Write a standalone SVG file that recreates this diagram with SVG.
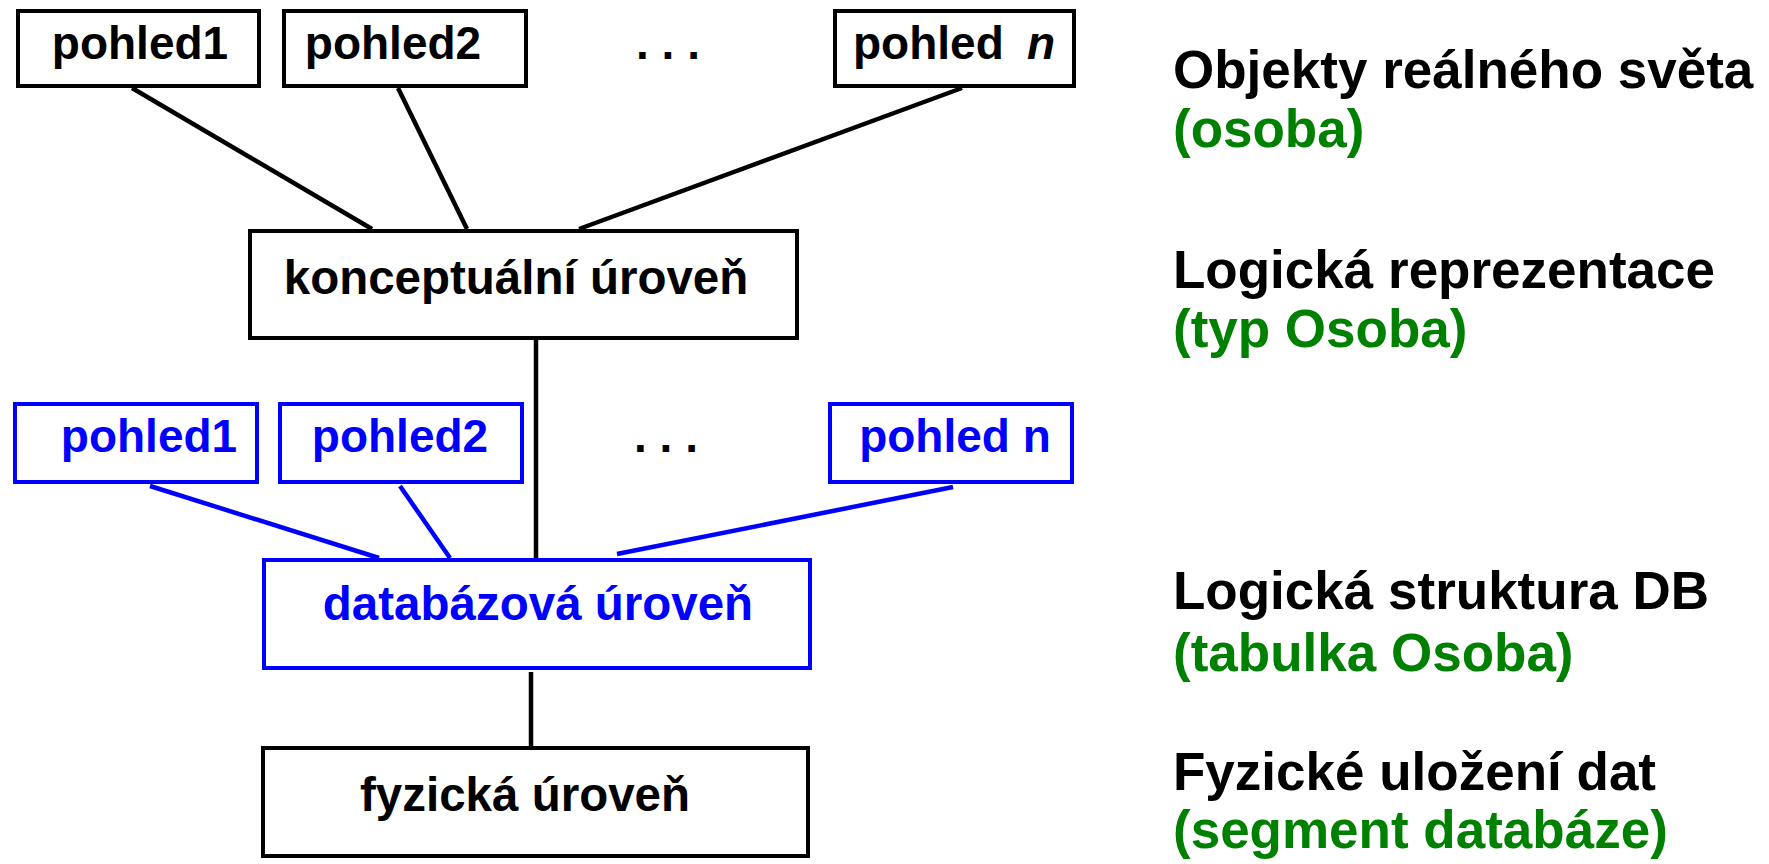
<svg xmlns="http://www.w3.org/2000/svg" width="1769" height="864" viewBox="0 0 1769 864">
<style>
.bx{fill:#fff;stroke:#000;stroke-width:4}
.bb{fill:#fff;stroke:#0000ff;stroke-width:4}
.t{font-family:"Liberation Sans",Arial,sans-serif;font-weight:bold;text-anchor:middle}
.k{fill:#000}
.b{fill:#0000ff}
.g{fill:#008000}
.r{font-family:"Liberation Sans",Arial,sans-serif;font-weight:bold;font-size:53px}
.lk{stroke:#000;stroke-width:4.5;fill:none}
.lb{stroke:#0000ff;stroke-width:4.5;fill:none}
</style>
<rect width="1769" height="864" fill="#fff"/>
<g id="connectors">
<line class="lk" x1="132" y1="88" x2="372" y2="229"/>
<line class="lk" x1="398" y1="88" x2="467" y2="229"/>
<line class="lk" x1="962" y1="88" x2="579" y2="229"/>
<line class="lk" x1="536" y1="338" x2="536" y2="560"/>
<line class="lb" x1="150" y1="486" x2="379" y2="558"/>
<line class="lb" x1="400" y1="486" x2="450" y2="558"/>
<line class="lb" x1="953" y1="487" x2="617" y2="554"/>
<line class="lk" x1="531" y1="672" x2="531" y2="748"/>
</g>
<g id="top-pohled1"><rect class="bx" x="18" y="11" width="241" height="75"/><text class="t k" x="140" y="59" font-size="46">pohled1</text></g>
<g id="top-pohled2"><rect class="bx" x="284" y="11" width="242" height="75"/><text class="t k" x="393" y="59" font-size="46">pohled2</text></g>
<g id="top-dots"><text class="t k" x="668" y="59" font-size="46">. . .</text></g>
<g id="top-pohledn"><rect class="bx" x="835" y="11" width="239" height="75"/><text class="k" x="853" y="59" font-size="46" font-family="Liberation Sans, Arial, sans-serif" font-weight="bold">pohled<tspan x="1027" font-style="italic">n</tspan></text></g>
<g id="konceptualni"><rect class="bx" x="250" y="231" width="547" height="107"/><text class="t k" x="516" y="294" font-size="47.5">konceptuální úroveň</text></g>
<g id="mid-pohled1"><rect class="bb" x="15" y="404" width="242" height="78"/><text class="t b" x="149" y="452" font-size="46">pohled1</text></g>
<g id="mid-pohled2"><rect class="bb" x="280" y="404" width="242" height="78"/><text class="t b" x="400" y="452" font-size="46">pohled2</text></g>
<g id="mid-dots"><text class="t k" x="666" y="452" font-size="46">. . .</text></g>
<g id="mid-pohledn"><rect class="bb" x="830" y="404" width="242" height="78"/><text class="t b" x="955" y="452" font-size="46">pohled n</text></g>
<g id="databazova"><rect class="bb" x="264" y="560" width="546" height="108"/><text class="t b" x="538" y="620" font-size="47.5">databázová úroveň</text></g>
<g id="fyzicka"><rect class="bx" x="263" y="748" width="545" height="108"/><text class="t k" x="525" y="811" font-size="47.5">fyzická úroveň</text></g>
<g id="legend">
<text class="r k" x="1173" y="88">Objekty reálného světa</text>
<text class="r g" x="1173" y="147">(osoba)</text>
<text class="r k" x="1173" y="288">Logická reprezentace</text>
<text class="r g" x="1173" y="347">(typ Osoba)</text>
<text class="r k" x="1173" y="609">Logická struktura DB</text>
<text class="r g" x="1173" y="671">(tabulka Osoba)</text>
<text class="r k" x="1173" y="790">Fyzické uložení dat</text>
<text class="r g" x="1173" y="848">(segment databáze)</text>
</g>
</svg>
